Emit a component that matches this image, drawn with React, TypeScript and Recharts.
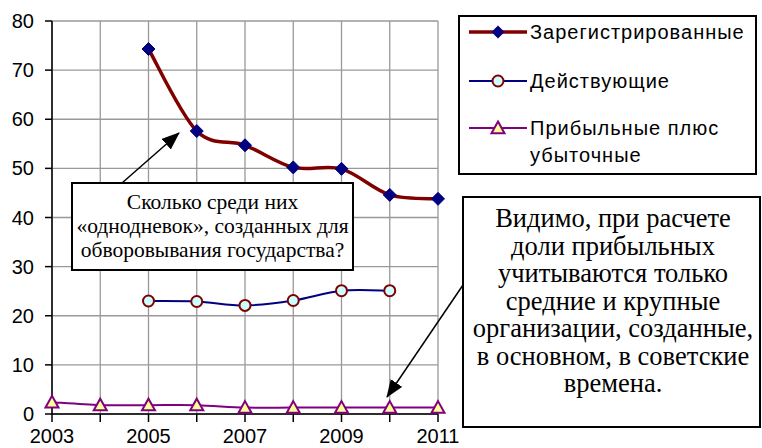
import React from 'react';
import { LineChart, Line, XAxis, YAxis, CartesianGrid, Legend } from 'recharts';

const years = [2003, 2004, 2005, 2006, 2007, 2008, 2009, 2010, 2011];
const registered = [null, null, 74.3, 57.6, 54.7, 50.2, 49.9, 44.6, 43.8];
const active = [null, null, 23, 22.9, 22.1, 23.1, 25.1, 25.1, null];
const profitable = [2.4, 1.8, 1.8, 1.8, 1.3, 1.3, 1.3, 1.3, 1.3];
const yTicks = [0, 10, 20, 30, 40, 50, 60, 70, 80];
const xTickLabels = ['2003', '2005', '2007', '2009', '2011'];
const seriesNames = ['Зарегистрированные', 'Действующие', 'Прибыльные плюс', 'убыточные'];
const note1 = ['Сколько среди них', '«однодневок», созданных для', 'обворовывания государства?'];
const note2 = [
  'Видимо, при расчете',
  'доли прибыльных',
  'учитываются только',
  'средние и крупные',
  'организации, созданные,',
  'в основном, в советские',
  'времена.',
];

const data = years.map((y, i) => ({
  year: y,
  registered: registered[i],
  active: active[i],
  profitable: profitable[i],
}));

const excelSmooth = (context: any) => {
  let pts: [number, number][] = [];
  return {
    areaStart() {},
    areaEnd() {},
    lineStart() {
      pts = [];
    },
    point(x: number, y: number) {
      pts.push([+x, +y]);
    },
    lineEnd() {
      const n = pts.length;
      if (!n) return;
      context.moveTo(pts[0][0], pts[0][1]);
      for (let i = 0; i < n - 1; i++) {
        const p0 = pts[i - 1] || pts[i];
        const p1 = pts[i];
        const p2 = pts[i + 1];
        const p3 = pts[i + 2] || p2;
        context.bezierCurveTo(
          p1[0] + (p2[0] - p0[0]) / 6,
          p1[1] + (p2[1] - p0[1]) / 6,
          p2[0] - (p3[0] - p1[0]) / 6,
          p2[1] - (p3[1] - p1[1]) / 6,
          p2[0],
          p2[1]
        );
      }
    },
  };
};

const DARK_RED = '#800000';
const NAVY = '#000080';
const PURPLE = '#800080';

const diamondPath = (cx: number, cy: number, r: number) =>
  `M${cx},${cy - r}L${cx + r},${cy}L${cx},${cy + r}L${cx - r},${cy}Z`;
const trianglePath = (cx: number, cy: number, r: number) =>
  `M${cx},${cy - r}L${cx + r},${cy + r * 0.8}L${cx - r},${cy + r * 0.8}Z`;

const DiamondDot = (props: any) => {
  const { cx, cy, index } = props;
  if (cx == null || cy == null || props.value == null) return <g key={`d${index}`} />;
  return <path key={`d${index}`} d={diamondPath(cx, cy, 6.5)} fill={NAVY} stroke={NAVY} strokeWidth={1} />;
};
const CircleDot = (props: any) => {
  const { cx, cy, index } = props;
  if (cx == null || cy == null || props.value == null) return <g key={`c${index}`} />;
  return <circle key={`c${index}`} cx={cx} cy={cy} r={5.5} fill="#ccffff" stroke={DARK_RED} strokeWidth={2} />;
};
const TriDot = (props: any) => {
  const { cx, cy, index } = props;
  if (cx == null || cy == null || props.value == null) return <g key={`t${index}`} />;
  return <path key={`t${index}`} d={trianglePath(cx, cy, 6.5)} fill="#ffff99" stroke={PURPLE} strokeWidth={2} />;
};

const LegendBox = () => (
  <div
    style={{
      width: 299,
      height: 160,
      border: '2px solid #000',
      boxSizing: 'border-box',
      background: '#fff',
      position: 'relative',
      fontFamily: '"Liberation Sans", Arial, sans-serif',
      fontSize: 20,
      letterSpacing: 1,
      color: '#000',
    }}
  >
    <div style={{ position: 'absolute', left: 9, top: 3, width: 60, height: 24 }}>
      <svg width={60} height={24}>
        <line x1={0} y1={12} x2={58} y2={12} stroke={DARK_RED} strokeWidth={3.5} />
        <path d={diamondPath(29, 12, 6.5)} fill={NAVY} />
      </svg>
    </div>
    <div style={{ position: 'absolute', left: 70, top: 3, height: 24, lineHeight: '24px', whiteSpace: 'nowrap' }}>
      {seriesNames[0]}
    </div>
    <div style={{ position: 'absolute', left: 9, top: 52, width: 60, height: 24 }}>
      <svg width={60} height={24}>
        <line x1={0} y1={12} x2={58} y2={12} stroke={NAVY} strokeWidth={2} />
        <circle cx={29} cy={12} r={5.5} fill="#ccffff" stroke={DARK_RED} strokeWidth={2} />
      </svg>
    </div>
    <div style={{ position: 'absolute', left: 70, top: 52, height: 24, lineHeight: '24px', whiteSpace: 'nowrap' }}>
      {seriesNames[1]}
    </div>
    <div style={{ position: 'absolute', left: 9, top: 99, width: 60, height: 24 }}>
      <svg width={60} height={24}>
        <line x1={0} y1={12} x2={58} y2={12} stroke={PURPLE} strokeWidth={2} />
        <path d={trianglePath(29, 12, 6.5)} fill="#ffff99" stroke={PURPLE} strokeWidth={2} />
      </svg>
    </div>
    <div style={{ position: 'absolute', left: 70, top: 97.5, lineHeight: '27px', whiteSpace: 'nowrap' }}>
      {seriesNames[2]}
      <br />
      {seriesNames[3]}
    </div>
  </div>
);

const Annotations = () => (
  <svg
    width={762}
    height={448}
    style={{ position: 'absolute', left: 0, top: 0, pointerEvents: 'none' }}
  >
    <defs>
      <marker id="ah" markerUnits="userSpaceOnUse" markerWidth={18} markerHeight={14} refX={17} refY={7} orient="auto">
        <path d="M0,0L18,7L0,14Z" fill="#000" />
      </marker>
    </defs>
    <line x1={122} y1={183} x2={179} y2={133} stroke="#000" strokeWidth={1.5} markerEnd="url(#ah)" />
    <rect x={72} y={183} width={281} height={87} fill="#fff" stroke="#000" strokeWidth={2} />
    <g fontFamily='"Liberation Serif", "Times New Roman", serif' fontSize={21.5} fill="#000" textAnchor="middle">
      {note1.map((t, i) => (
        <text key={i} x={212.5} y={209 + i * 24}>
          {t}
        </text>
      ))}
    </g>
    <line x1={463} y1={285} x2={387} y2={397} stroke="#000" strokeWidth={1.5} markerEnd="url(#ah)" />
    <rect x={463} y={197} width={297} height={230} fill="#fff" stroke="#000" strokeWidth={2} />
    <g fontFamily='"Liberation Serif", "Times New Roman", serif' fontSize={26.5} fill="#000" textAnchor="middle">
      {note2.map((t, i) => (
        <text key={i} x={613} y={227 + i * 27.5}>
          {t}
        </text>
      ))}
    </g>
  </svg>
);

const tickStyle = { fontFamily: '"Liberation Sans", Arial, sans-serif', fontSize: 20, fill: '#000' };

export default function App() {
  return (
    <div style={{ position: 'absolute', left: 0, top: 0, width: 762, height: 448, background: '#fff' }}>
      <LineChart width={762} height={448} data={data} margin={{ top: 21, right: 324, bottom: 0, left: 0 }}>
        <CartesianGrid stroke="#999" strokeWidth={1.3} />
        <XAxis
          dataKey="year"
          type="number"
          domain={[2003, 2011]}
          ticks={years}
          height={34}
          tickSize={8}
          tickMargin={7}
          tick={tickStyle}
          tickFormatter={(v: number) => (xTickLabels.includes(String(v)) ? String(v) : '')}
          stroke="#000"
          strokeWidth={1.5}
          interval={0}
        />
        <YAxis
          domain={[0, 80]}
          ticks={yTicks}
          width={52}
          tickSize={7}
          tickMargin={11}
          tick={tickStyle}
          stroke="#000"
          strokeWidth={1.5}
          interval={0}
        />
        <Legend
          layout="vertical"
          align="center"
          verticalAlign="middle"
          wrapperStyle={{ left: 458, top: 15, width: 299, height: 160 }}
          content={() => <LegendBox />}
        />
        <Line
          dataKey="profitable"
          name={seriesNames[2]}
          type={excelSmooth as any}
          stroke={PURPLE}
          strokeWidth={2}
          dot={TriDot}
          isAnimationActive={false}
        />
        <Line
          dataKey="active"
          name={seriesNames[1]}
          type={excelSmooth as any}
          stroke={NAVY}
          strokeWidth={2}
          dot={CircleDot}
          isAnimationActive={false}
        />
        <Line
          dataKey="registered"
          name={seriesNames[0]}
          type={excelSmooth as any}
          stroke={DARK_RED}
          strokeWidth={3.5}
          dot={DiamondDot}
          isAnimationActive={false}
        />
      </LineChart>
      <Annotations />
    </div>
  );
}
